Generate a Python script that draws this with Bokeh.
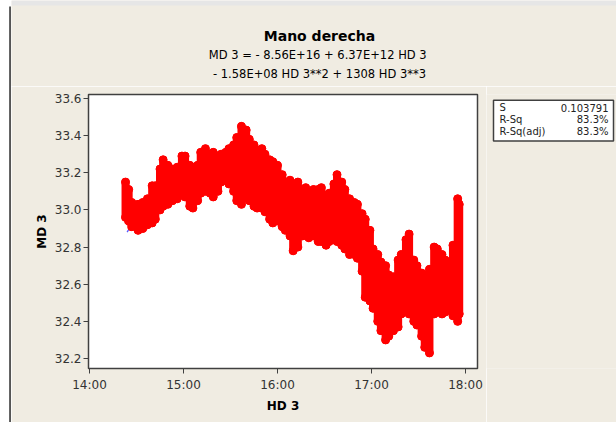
from bokeh.plotting import figure
from bokeh.layouts import row, column
from bokeh.models import FixedTicker, Range1d
from bokeh.core.properties import value
from bokeh.embed import file_html
from bokeh.resources import INLINE

# ---------------- data ----------------
times = ["14:23", "14:25", "14:27", "14:31", "14:34", "14:37", "14:40", "14:42", "14:45", "14:47",
         "14:50", "14:53", "14:56", "14:59", "15:01", "15:04", "15:06", "15:09", "15:11", "15:14",
         "15:17", "15:19", "15:22", "15:24", "15:27", "15:29", "15:32", "15:34", "15:37", "15:40",
         "15:42", "15:45", "15:47", "15:50", "15:52", "15:55", "15:57", "16:00", "16:03", "16:05",
         "16:08", "16:10", "16:13", "16:16", "16:18", "16:20", "16:23", "16:26", "16:28", "16:31",
         "16:33", "16:36", "16:38", "16:41", "16:43", "16:46", "16:49", "16:51", "16:54", "16:56",
         "16:59", "17:01", "17:04", "17:06", "17:09", "17:11", "17:14", "17:17", "17:19", "17:22",
         "17:24", "17:27", "17:29", "17:32", "17:34", "17:37", "17:40", "17:42", "17:45", "17:47",
         "17:50", "17:52", "17:55", "17:56"]
md_high = [33.15, 33.11, 33.04, 33.03, 33.04, 33.06, 33.13, 33.13, 33.22, 33.27,
           33.24, 33.22, 33.23, 33.29, 33.29, 33.24, 33.23, 33.24, 33.31, 33.33,
           33.30, 33.31, 33.29, 33.30, 33.31, 33.33, 33.35, 33.39, 33.45, 33.43,
           33.38, 33.35, 33.31, 33.33, 33.30, 33.27, 33.26, 33.24, 33.19, 33.15,
           33.16, 33.14, 33.15, 33.11, 33.12, 33.09, 33.11, 33.11, 33.12, 33.08,
           33.09, 33.14, 33.19, 33.15, 33.11, 33.06, 33.04, 33.03, 32.98, 32.95,
           32.89, 32.79, 32.76, 32.72, 32.70, 32.65, 32.64, 32.73, 32.76, 32.84,
           32.87, 32.73, 32.70, 32.66, 32.65, 32.68, 32.80, 32.79, 32.76, 32.73,
           32.70, 32.81, 33.06, 33.03]
md_low = [32.96, 32.94, 32.91, 32.89, 32.90, 32.92, 32.93, 32.95, 33.00, 33.02,
          33.03, 33.05, 33.06, 33.09, 33.07, 33.02, 33.01, 33.05, 33.09, 33.10,
          33.09, 33.07, 33.10, 33.15, 33.16, 33.14, 33.10, 33.05, 33.03, 33.07,
          33.05, 33.02, 33.01, 33.01, 32.99, 32.95, 32.93, 32.94, 32.91, 32.89,
          32.86, 32.78, 32.80, 32.86, 32.87, 32.85, 32.86, 32.83, 32.83, 32.81,
          32.83, 32.84, 32.83, 32.81, 32.79, 32.76, 32.76, 32.74, 32.67, 32.53,
          32.51, 32.47, 32.40, 32.35, 32.30, 32.32, 32.35, 32.37, 32.44, 32.47,
          32.44, 32.40, 32.38, 32.32, 32.26, 32.23, 32.44, 32.48, 32.44, 32.45,
          32.49, 32.43, 32.40, 32.44]

fit_times = ["14:24", "14:30", "14:45", "15:00", "15:15", "15:30", "15:45", "16:00",
             "16:15", "16:30", "16:45", "17:00", "17:15", "17:30", "17:45", "17:56"]
fit_values = [32.88, 32.96, 33.08, 33.15, 33.18, 33.18, 33.14, 33.07,
              32.98, 32.87, 32.77, 32.69, 32.63, 32.60, 32.61, 32.65]

x_ticks = [14, 15, 16, 17, 18]
x_tick_labels = ["14:00", "15:00", "16:00", "17:00", "18:00"]
y_ticks = [32.2, 32.4, 32.6, 32.8, 33.0, 33.2, 33.4, 33.6]

title_text = "Mano derecha"
equation_lines = ["MD 3 =  - 8.56E+16 + 6.37E+12 HD 3",
                  "- 1.58E+08 HD 3**2 + 1308 HD 3**3"]
stat_names = ["S", "R-Sq", "R-Sq(adj)"]
stat_values = ["0.103791", "83.3%", "83.3%"]
x_label = "HD 3"
y_label = "MD 3"


def hours(s):
    h, m = s.split(":")
    return int(h) + int(m) / 60.0


t = [hours(s) for s in times]
ft = [hours(s) for s in fit_times]

BG = "#F0ECE2"
FONT = "DejaVu Sans"


def blank(width, height, x0, x1, y0, y1, fill):
    f = figure(width=width, height=height, x_range=Range1d(x0, x1), y_range=Range1d(y0, y1),
               output_backend="svg", toolbar_location=None, min_border=0,
               background_fill_color=fill, border_fill_color=fill)
    f.axis.visible = False
    f.grid.visible = False
    f.outline_line_color = None
    return f


# ---------------- left edge strip (page x 0..11) ----------------
pl = blank(11, 422, 0, 11, 422, 0, "white")
pl.quad(left=[8.6], right=[10.6], top=[6], bottom=[422], fill_color="#555555", line_color=None)

# ---------------- header (page x 11..616, y 0..86) ----------------
ph = blank(605, 86, 11, 616, 86, 0, BG)
ph.quad(left=[11], right=[616], top=[0], bottom=[5], fill_color="#E6E6E6", line_color=None)
ph.text(x=[319], y=[35], text=[title_text], text_align="center", text_baseline="middle",
        text_font=value(FONT), text_font_style="bold", text_font_size="14px", text_color="black")
ph.text(x=[319, 319], y=[54, 73], text=equation_lines, text_align="center",
        text_baseline="middle", text_font=value(FONT), text_font_size="11.5px",
        text_color="black")

# ---------------- main plot (page x 11..486, y 86..422) ----------------
p = figure(width=475, height=336, x_range=Range1d(13.9894, 18.1277),
           y_range=Range1d(32.1462, 33.6215),
           output_backend="svg", toolbar_location=None,
           min_border_left=77, min_border_right=9, min_border_top=8, min_border_bottom=54,
           background_fill_color="white", border_fill_color=BG)
p.grid.visible = False
p.outline_line_color = "#404040"
p.outline_line_width = 1.5

for ax in (p.xaxis[0], p.yaxis[0]):
    ax.axis_line_color = "#404040"
    ax.major_tick_line_color = "#404040"
    ax.minor_tick_line_color = None
    ax.major_tick_out = 5
    ax.major_tick_in = 0
    ax.major_label_text_font = FONT
    ax.major_label_text_font_size = "12px"
    ax.major_label_text_color = "#333333"
    ax.axis_label_text_font = FONT
    ax.axis_label_text_font_size = "12px"
    ax.axis_label_text_font_style = "bold"
    ax.axis_label_text_color = "black"

p.xaxis.ticker = FixedTicker(ticks=x_ticks)
p.xaxis.major_label_overrides = {k: v for k, v in zip(x_ticks, x_tick_labels)}
p.xaxis.axis_label = x_label
p.xaxis.major_label_standoff = 4
p.xaxis.axis_label_standoff = 4

p.yaxis.ticker = FixedTicker(ticks=y_ticks)
p.yaxis.major_label_overrides = {k: f"{k:.1f}" for k in y_ticks}
p.yaxis.axis_label = y_label
p.yaxis.major_label_standoff = 2
p.yaxis.axis_label_standoff = 3

# fitted line (under the data)
p.line(ft, fit_values, line_color="#5A5AFF", line_width=1.3)

# data: dense red points, drawn as round-capped columns plus end points
p.segment(x0=t, y0=md_low, x1=t, y1=md_high, line_color="#FF0000", line_width=8,
          line_cap="round")
p.scatter(t + t, md_low + md_high, size=8, color="#FF0000")

# ---------------- stats box (page x 486..616, y 86..422) ----------------
ps = blank(130, 336, 486, 616, 422, 86, BG)
ps.quad(left=[493], right=[613], top=[93], bottom=[143], fill_color="white",
        line_color="#404040", line_width=1.5)
ps.text(x=[499] * 3, y=[102, 116.5, 131], text=stat_names, text_align="left",
        text_baseline="middle", text_font=value(FONT), text_font_size="10px",
        text_color="#222222")
ps.text(x=[608] * 3, y=[102, 116.5, 131], text=stat_values, text_align="right",
        text_baseline="middle", text_font=value(FONT), text_font_size="10px",
        text_color="#222222")

layout = row(pl, column(ph, row(p, ps)))
open("out.html", "w").write(file_html(layout, INLINE))
